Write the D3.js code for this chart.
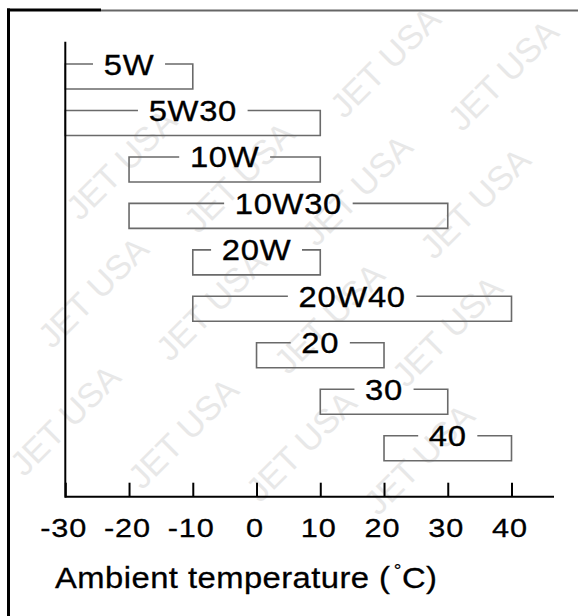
<!DOCTYPE html>
<html>
<head>
<meta charset="utf-8">
<script src="https://cdn.jsdelivr.net/npm/d3@7"></script>
<style>
  html, body { margin: 0; padding: 0; background: #fff; }
  svg { display: block; }
  text { font-family: "Liberation Sans", Arial, Helvetica, sans-serif; }
</style>
</head>
<body>
<script>
// Oil grades and the ambient temperature range (°C) each one covers
const grades = ["5W", "5W30", "10W", "10W30", "20W", "20W40", "20", "30", "40"];
const lowTemps = [-30, -30, -20, -20, -10, -10, 0, 10, 20];
const highTemps = [-10, 10, 10, 30, 10, 40, 20, 30, 40];
const tickValues = [-30, -20, -10, 0, 10, 20, 30, 40];
const axisTitle = "Ambient temperature (";

const W = 578, H = 616;
const svg = d3.select("body").append("svg")
  .attr("width", W).attr("height", H);

// Faint repeated brand mark behind the chart (only whole copies)
const mark = svg.append("g").attr("fill", "#e8e8e8").attr("font-size", 34);
for (let r = -3; r < 6; r++) {
  for (let c = -4; c < 4; c++) {
    const cx = 385 + c * 118 - r * 28;
    const cy = 62 + c * 13 + r * 128;
    if (cx < 58 || cx > W - 58 || cy < 60 || cy > H - 60) continue;
    mark.append("text")
      .attr("transform", `translate(${cx},${cy}) rotate(-45)`)
      .attr("text-anchor", "middle")
      .attr("dominant-baseline", "central")
      .text("JET USA");
  }
}

// Scales
const x = d3.scaleLinear().domain([-30, 40]).range([65.3, 511.5]);
const y = d3.scalePoint().domain(grades).range([64, 435.7]);
const boxH = 25;
const axisY = 496.7;
const sx = 1.13; // horizontal stretch of the lettering

const rows = grades.map((g, i) => ({ grade: g, lo: lowTemps[i], hi: highTemps[i] }));

// Grade brackets: open box whose top edge is broken by the grade label
const rowG = svg.append("g").selectAll("g").data(rows).join("g");

rowG.each(function (d) {
  const g = d3.select(this);
  const x0 = x(d.lo), x1 = x(d.hi), top = y(d.grade), bot = top + boxH;
  const cx = (x0 + x1) / 2;
  const label = g.append("text")
    .attr("transform", `translate(${cx},${top + 10.5}) scale(${sx},1)`)
    .attr("text-anchor", "middle")
    .attr("font-size", 29)
    .attr("letter-spacing", 0.6)
    .attr("fill", "#000")
    .attr("stroke", "#000")
    .attr("stroke-width", 0.35)
    .text(d.grade);
  const bb = label.node().getBBox();
  const half = (bb.width - 0.6) * sx / 2;
  const gapL = cx - half - 11, gapR = cx + half + 11;
  g.insert("path", "text")
    .attr("fill", "none")
    .attr("stroke", "#6a6a6a")
    .attr("stroke-width", 1.6)
    .attr("d", `M${gapL},${top}H${x0}V${bot}H${x1}V${top}H${gapR}`);
});

// Axes
const xAxis = d3.axisBottom(x).tickValues(tickValues).tickSize(-14).tickSizeOuter(0).tickFormat(d3.format("d"));
const ax = svg.append("g").attr("transform", `translate(0,${axisY})`).call(xAxis);
ax.select(".domain").remove();
ax.selectAll(".tick line").attr("stroke", "#000").attr("stroke-width", 2);
ax.selectAll(".tick text")
  .attr("y", null).attr("dy", null)
  .attr("transform", `translate(-2,40.6) scale(${sx + 0.05},1)`)
  .attr("font-size", 26)
  .attr("letter-spacing", 0.8)
  .attr("font-family", "Liberation Sans, Arial, sans-serif")
  .attr("fill", "#000")
  .attr("stroke", "#000")
  .attr("stroke-width", 0.3)
  .text(d => d < 0 ? "-" + Math.abs(d) : d);

svg.append("line")
  .attr("x1", x(-30)).attr("x2", 554)
  .attr("y1", axisY).attr("y2", axisY)
  .attr("stroke", "#000").attr("stroke-width", 2);
svg.append("line")
  .attr("x1", x(-30)).attr("x2", x(-30))
  .attr("y1", 41.7).attr("y2", axisY + 1)
  .attr("stroke", "#000").attr("stroke-width", 2);

// Axis title with a raised degree sign
const title = svg.append("text")
  .attr("transform", `translate(55,588) scale(${sx},1)`)
  .attr("font-size", 29)
  .attr("letter-spacing", 0.4)
  .attr("fill", "#000")
  .attr("stroke", "#000")
  .attr("stroke-width", 0.3);
title.append("tspan").text(axisTitle);
title.append("tspan").attr("dx", 3).attr("dy", -12).attr("font-size", 17).attr("stroke-width", 0.2).text("°");
title.append("tspan").attr("dy", 12).text("C)");

// Outer frame (left and top edges)
svg.append("line").attr("x1", 101).attr("x2", W).attr("y1", 10.5).attr("y2", 10.5)
  .attr("stroke", "#666").attr("stroke-width", 2);
svg.append("line").attr("x1", 7).attr("x2", 101).attr("y1", 10).attr("y2", 10)
  .attr("stroke", "#000").attr("stroke-width", 3);
svg.append("line").attr("x1", 8.5).attr("x2", 8.5).attr("y1", 8.5).attr("y2", H)
  .attr("stroke", "#000").attr("stroke-width", 3);
</script>
</body>
</html>
